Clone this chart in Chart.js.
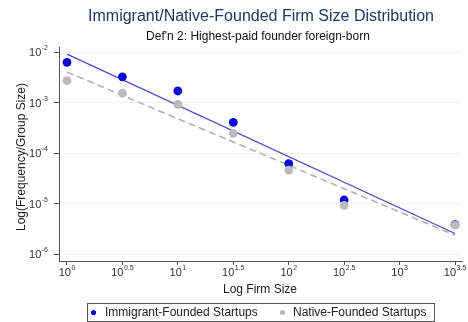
<!DOCTYPE html>
<html>
<head>
<meta charset="utf-8">
<script src="https://cdn.jsdelivr.net/npm/chart.js@4.4.1/dist/chart.umd.min.js"></script>
<style>
  html, body { margin: 0; padding: 0; background: #fff; }
  #wrap { width: 468px; height: 322px; position: relative; }
</style>
</head>
<body>
<div id="wrap"><canvas id="c" width="468" height="322"></canvas></div>
<script>
// ---- data ----
const firmSizes = [1, 3.162, 10, 31.62, 100, 316.2, 3162];
const immigrantFreq = [0.0064, 0.0033, 0.00173, 0.000415, 0.000063, 0.000012, 0.0000039];
const nativeFreq = [0.00277, 0.00156, 0.00094, 0.00025, 0.000047, 0.0000094, 0.0000038];
const immigrantFitX = [1, 3162];
const immigrantFitY = [0.0093, 0.0000026];
const nativeFitX = [1, 3162];
const nativeFitY = [0.0041, 0.0000024];
const xTickExps = ['0', '0.5', '1', '1.5', '2', '2.5', '3', '3.5'];
const yTickExps = ['-2', '-3', '-4', '-5', '-6'];
const seriesNames = ['Immigrant-Founded Startups', 'Native-Founded Startups'];
const titleText = 'Immigrant/Native-Founded Firm Size Distribution';
const subtitleText = "Def'n 2: Highest-paid founder foreign-born";
const xTitle = 'Log Firm Size';
const yTitle = 'Log(Frequency/Group Size)';

const FONT = '"Liberation Sans", Arial, sans-serif';
const BLUE = '#0a0ad8';
const GRAY = '#bbbbbb';

const pts = (xs, ys) => xs.map((x, i) => ({ x: x, y: ys[i] }));

const textPlugin = {
  id: 'textPlugin',
  afterDraw(chart) {
    const ctx = chart.ctx;
    const xs = chart.scales.x, ys = chart.scales.y;
    ctx.save();
    ctx.textBaseline = 'middle';
    ctx.textAlign = 'center';
    // title
    ctx.fillStyle = '#1d3a62';
    ctx.font = '16px ' + FONT;
    ctx.fillText(titleText, 261, 17);
    ctx.fillStyle = '#111';
    ctx.font = '12px ' + FONT;
    ctx.fillText(subtitleText, 258, 37);
    // y tick labels
    ctx.fillStyle = '#333';
    yTickExps.forEach(e => {
      const y = ys.getPixelForValue(Math.pow(10, Number(e)));
      ctx.font = '7px ' + FONT;
      const we = ctx.measureText(e).width;
      ctx.textAlign = 'left';
      ctx.fillText(e, 48 - we, y - 4);
      ctx.font = '11px ' + FONT;
      ctx.textAlign = 'right';
      ctx.fillText('10', 48 - we - 0.5, y + 0.5);
    });
    // x tick labels
    xTickExps.forEach(e => {
      const x = xs.getPixelForValue(Math.pow(10, Number(e)));
      ctx.font = '11px ' + FONT;
      const wb = ctx.measureText('10').width;
      ctx.font = '7px ' + FONT;
      const we = ctx.measureText(e).width;
      const start = x - (wb + we + 0.5) / 2;
      ctx.textAlign = 'left';
      ctx.font = '11px ' + FONT;
      ctx.fillText('10', start, 273);
      ctx.font = '7px ' + FONT;
      ctx.fillText(e, start + wb + 0.5, 268.5);
    });
    // axis titles
    ctx.fillStyle = '#222';
    ctx.textAlign = 'center';
    ctx.font = '12px ' + FONT;
    ctx.fillText(xTitle, 260, 290);
    ctx.save();
    ctx.translate(22, 157);
    ctx.rotate(-Math.PI / 2);
    ctx.fillText(yTitle, 0, 0);
    ctx.restore();
    // legend
    ctx.strokeStyle = '#555';
    ctx.lineWidth = 1;
    ctx.strokeRect(87.5, 303.5, 347, 18);
    ctx.textAlign = 'left';
    ctx.fillStyle = BLUE;
    ctx.beginPath(); ctx.arc(93.5, 312.5, 2.6, 0, Math.PI * 2); ctx.fill();
    ctx.fillStyle = GRAY;
    ctx.beginPath(); ctx.arc(282.5, 312.5, 2.6, 0, Math.PI * 2); ctx.fill();
    ctx.fillStyle = '#222';
    ctx.font = '12px ' + FONT;
    ctx.fillText(seriesNames[0], 105, 312.5);
    ctx.fillText(seriesNames[1], 293, 312.5);
    ctx.restore();
  }
};

new Chart(document.getElementById('c'), {
  type: 'scatter',
  data: {
    datasets: [
      { label: seriesNames[1], data: pts(firmSizes, nativeFreq), order: 1,
        pointRadius: 4.4, pointBackgroundColor: GRAY, pointBorderWidth: 0, backgroundColor: GRAY, clip: false },
      { label: seriesNames[0], data: pts(firmSizes, immigrantFreq), order: 2,
        pointRadius: 4.4, pointBackgroundColor: BLUE, pointBorderWidth: 0, backgroundColor: BLUE, clip: false },
      { label: 'Immigrant fit', data: pts(immigrantFitX, immigrantFitY), order: 3, showLine: true,
        pointRadius: 0, borderColor: '#4a4ad6', borderWidth: 1.3 },
      { label: 'Native fit', data: pts(nativeFitX, nativeFitY), order: 4, showLine: true,
        pointRadius: 0, borderColor: '#b2b2b2', borderWidth: 1.6, borderDash: [7, 4] }
    ]
  },
  options: {
    responsive: false,
    animation: false,
    devicePixelRatio: 1,
    layout: { padding: { top: 47, right: 6, left: 0, bottom: 0 } },
    plugins: { legend: { display: false }, title: { display: false }, tooltip: { enabled: false } },
    scales: {
      x: {
        type: 'logarithmic',
        min: Math.pow(10, -0.072),
        max: Math.pow(10, 3.563),
        afterBuildTicks: s => { s.ticks = xTickExps.map(e => ({ value: Math.pow(10, Number(e)) })); },
        afterFit: s => { s.height = 61; },
        ticks: { display: false },
        grid: { drawOnChartArea: false, drawTicks: true, tickLength: 4, color: '#555', tickColor: '#555' },
        border: { display: true, color: '#555', width: 1 }
      },
      y: {
        type: 'logarithmic',
        min: Math.pow(10, -6.129),
        max: Math.pow(10, -1.891),
        afterBuildTicks: s => { s.ticks = yTickExps.map(e => ({ value: Math.pow(10, Number(e)) })); },
        afterFit: s => { s.width = 59; },
        ticks: { display: false },
        grid: { drawOnChartArea: true, drawTicks: true, tickLength: 5, color: '#efefef', tickColor: '#555' },
        border: { display: true, color: '#555', width: 1 }
      }
    }
  },
  plugins: [textPlugin]
});
</script>
</body>
</html>
